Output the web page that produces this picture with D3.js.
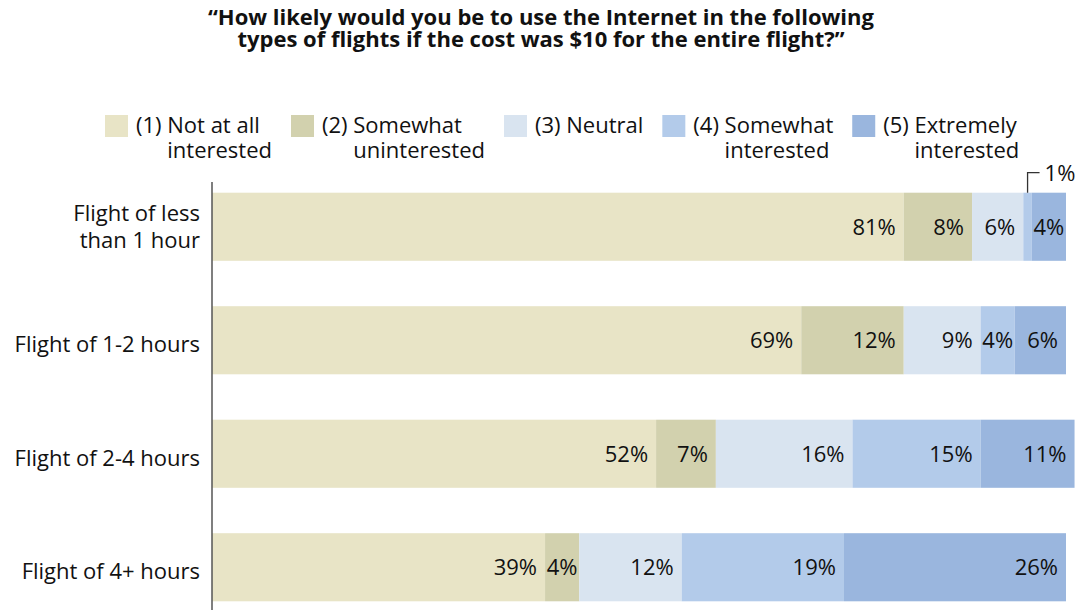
<!DOCTYPE html>
<html>
<head>
<meta charset="utf-8">
<script src="https://cdn.jsdelivr.net/npm/d3@7"></script>
<style>
  html, body { margin: 0; padding: 0; background: #ffffff; }
  svg { display: block; }
  text { font-family: "Open Sans", "Noto Sans", sans-serif; fill: #111111; }
</style>
</head>
<body>
<svg id="chart" width="1081" height="610"></svg>
<script>
// Survey question shown as the chart heading (two lines)
const titleLines = [
  "\u201cHow likely would you be to use the Internet in the following",
  "types of flights if the cost was $10 for the entire flight?\u201d"
];

// Flight-length categories, with the line breaks used for the axis labels
const categories = ["Flight of less than 1 hour", "Flight of 1-2 hours", "Flight of 2-4 hours", "Flight of 4+ hours"];
const categoryLines = [["Flight of less", "than 1 hour"], ["Flight of 1-2 hours"], ["Flight of 2-4 hours"], ["Flight of 4+ hours"]];

// Answer scale: key, number prefix, first line, second line
const seriesKeys = ["notAtAll", "somewhatUn", "neutral", "somewhatIn", "extremely"];
const seriesPrefix = ["(1)", "(2)", "(3)", "(4)", "(5)"];
const seriesLine1 = ["Not at all", "Somewhat", "Neutral", "Somewhat", "Extremely"];
const seriesLine2 = ["interested", "uninterested", "", "interested", "interested"];
const seriesColors = ["#e8e4c6", "#d2d1ae", "#d9e4f0", "#b3cbea", "#9ab6de"];

// Share of respondents (%) per category, one array per answer
const notAtAll   = [81, 69, 52, 39];
const somewhatUn = [8, 12, 7, 4];
const neutral    = [6, 9, 16, 12];
const somewhatIn = [1, 4, 15, 19];
const extremely  = [4, 6, 11, 26];

const rows = categories.map((c, i) => ({
  category: c,
  notAtAll: notAtAll[i],
  somewhatUn: somewhatUn[i],
  neutral: neutral[i],
  somewhatIn: somewhatIn[i],
  extremely: extremely[i]
}));

const svg = d3.select("#chart");
const FONT = 22;

// Heading: one text element, one tspan per line
const title = svg.append("text")
  .attr("text-anchor", "middle")
  .style("font-weight", 700)
  .style("font-size", "22px");
title.selectAll("tspan")
  .data(titleLines)
  .join("tspan")
  .attr("x", 541)
  .attr("y", (d, i) => 25 + i * 22)
  .text(d => d);

// Scales
const x = d3.scaleLinear().domain([0, 100]).range([212, 1066]);
const y = d3.scaleBand().domain(categories).range([170, 624]).paddingInner(0.4).paddingOuter(0.2);

// Stacked segments
const stack = d3.stack().keys(seriesKeys);
const layers = stack(rows);

const segGroups = svg.append("g")
  .selectAll("g")
  .data(layers)
  .join("g")
  .attr("fill", (d, i) => seriesColors[i]);

segGroups.selectAll("rect")
  .data(d => d.map(s => ({ s, key: d.key })))
  .join("rect")
  .attr("x", d => x(d.s[0]))
  .attr("y", d => y(d.s.data.category))
  .attr("width", d => x(d.s[1]) - x(d.s[0]))
  .attr("height", y.bandwidth());

// Value labels: right-aligned inside each segment, centred when tight,
// and lifted above the bar with a bracket when the segment is too thin
const labelLayer = svg.append("g").style("font-size", FONT + "px");
layers.forEach(layer => {
  layer.forEach(s => {
    const v = s.data[layer.key];
    const x0 = x(s[0]), x1 = x(s[1]);
    const w = x1 - x0;
    const cy = y(s.data.category) + y.bandwidth() / 2;
    const t = labelLayer.append("text").text(v + "%");
    const tw = t.node().getComputedTextLength();
    if (tw > w) {
      const mx = (x0 + x1) / 2;
      const top = y(s.data.category);
      labelLayer.append("path")
        .attr("d", `M${mx},${top}V${top - 20}H${mx + 12}`)
        .attr("fill", "none")
        .attr("stroke", "#333")
        .attr("stroke-width", 1.3);
      t.attr("x", mx + 17).attr("y", top - 12).attr("text-anchor", "start");
    } else if (tw + 10 > w) {
      t.attr("x", (x0 + x1) / 2).attr("y", cy + 8).attr("text-anchor", "middle");
    } else {
      t.attr("x", x1 - 8).attr("y", cy + 8).attr("text-anchor", "end");
    }
  });
});

// Category axis: a plain vertical rule with multi-line labels to its left
svg.append("line")
  .attr("x1", x(0)).attr("x2", x(0))
  .attr("y1", 182).attr("y2", 610)
  .attr("stroke", "#555")
  .attr("stroke-width", 1.5);

const catLabels = svg.append("g").style("font-size", FONT + "px");
categories.forEach((c, i) => {
  const lines = categoryLines[i];
  const cy = y(c) + y.bandwidth() / 2;
  const t = catLabels.append("text").attr("text-anchor", "end");
  lines.forEach((ln, j) => {
    t.append("tspan")
      .attr("x", 200)
      .attr("y", cy + 12 - (lines.length - 1) * 17.3 + j * 26.6)
      .text(ln);
  });
});

// Legend, laid out left to right; the second line hangs under the first word
const legend = svg.append("g").style("font-size", FONT + "px");
const measure = legend.append("text");
let lx = 105;
seriesKeys.forEach((k, i) => {
  const g = legend.append("g");
  g.append("rect")
    .attr("x", lx).attr("y", 115)
    .attr("width", 23).attr("height", 22)
    .attr("fill", seriesColors[i]);
  const tx = lx + 31;
  measure.text(seriesPrefix[i] + "\u00a0");
  const pw = measure.node().getComputedTextLength();
  const t = g.append("text");
  t.append("tspan").attr("x", tx).attr("y", 133).text(seriesPrefix[i] + "\u00a0" + seriesLine1[i]);
  if (seriesLine2[i]) {
    t.append("tspan").attr("x", tx + pw).attr("y", 158).text(seriesLine2[i]);
  }
  measure.text(seriesLine1[i]);
  const w1 = measure.node().getComputedTextLength();
  measure.text(seriesLine2[i]);
  const w2 = measure.node().getComputedTextLength();
  lx = tx + pw + Math.max(w1, w2) + 19;
});
measure.remove();
</script>
</body>
</html>
